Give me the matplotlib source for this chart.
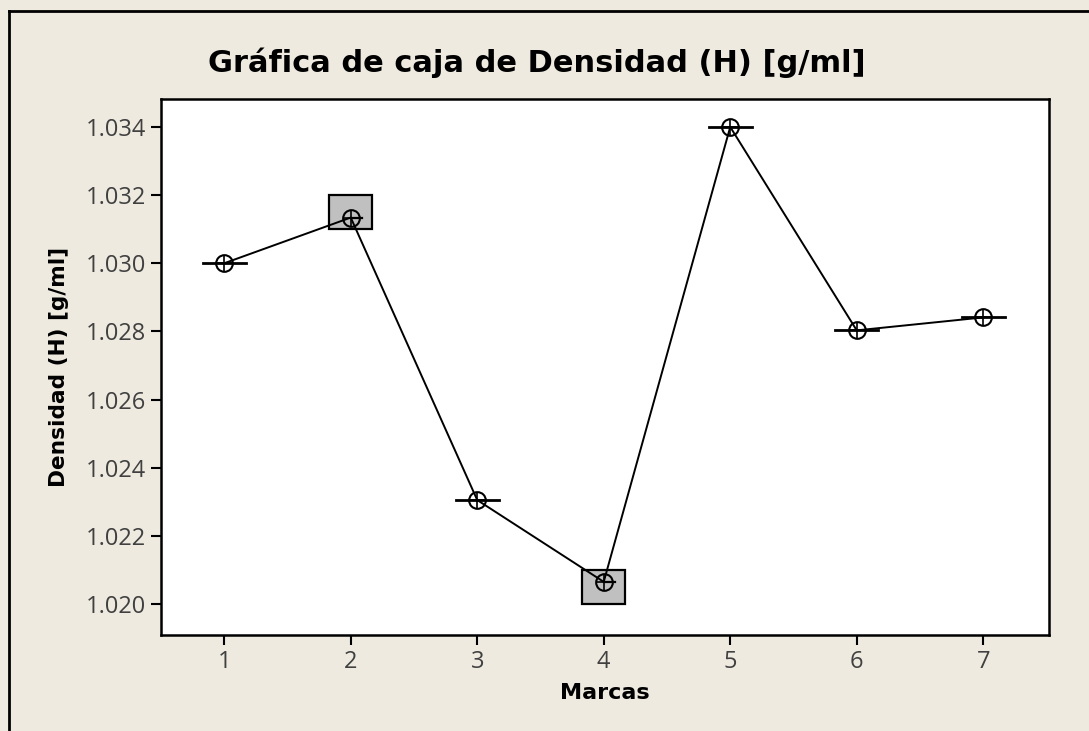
import matplotlib.pyplot as plt
from matplotlib.patches import Rectangle
from matplotlib.lines import Line2D

# marcas y densidades
marcas = [1, 2, 3, 4, 5, 6, 7]
medias = [1.0300, 1.03134, 1.02305, 1.02065, 1.0340, 1.02803, 1.02841]
medianas = [1.0300, 1.03134, 1.02305, 1.02065, 1.0340, 1.02803, 1.02841]
# cajas (Q1, Q3) solo para las marcas con mas de un valor distinto
cajas = {2: (1.0310, 1.0320), 4: (1.0200, 1.0210)}

fondo = '#EEEAE0'
plt.rcParams['font.family'] = ['Open Sans', 'DejaVu Sans']

fig = plt.figure(figsize=(10.89, 7.31), dpi=100, facecolor=fondo)
ax = fig.add_axes([161 / 1089, 1 - 635 / 731, (1049 - 161) / 1089, (635 - 99) / 731])
ax.set_facecolor('white')

ancho = 0.34
for m in marcas:
    med = medianas[m - 1]
    if m in cajas:
        q1, q3 = cajas[m]
        ax.add_patch(Rectangle((m - ancho / 2, q1), ancho, q3 - q1,
                               facecolor='#C0C0C0', edgecolor='black', lw=1.6, zorder=2))
        ax.plot([m, m + 0.09], [med, med], color='black', lw=1.6, zorder=3)
    else:
        ax.plot([m - ancho / 2, m + ancho / 2], [med, med], color='black', lw=2, zorder=3)

ax.plot(marcas, medias, color='black', lw=1.4, zorder=4)
ax.plot(marcas, medias, 'o', ms=12, mfc='none', mec='black', mew=1.5, zorder=5)
ax.plot(marcas, medias, '+', ms=12, mec='black', mew=1.2, zorder=5)

ax.set_xlim(0.5, 7.52)
ax.set_ylim(1.01909, 1.03482)
ax.set_xticks(marcas)
ax.set_yticks([1.020, 1.022, 1.024, 1.026, 1.028, 1.030, 1.032, 1.034])
ax.set_yticklabels(['%.3f' % v for v in ax.get_yticks()])
ax.tick_params(direction='out', length=7, width=1.5, labelsize=17,
               labelcolor='#404040', pad=4)
for s in ax.spines.values():
    s.set_linewidth(1.8)

negrita = dict(family='DejaVu Sans', fontweight='bold')
ax.set_xlabel('Marcas', fontsize=16, labelpad=6, **negrita)
ax.set_ylabel('Densidad (H) [g/ml]', fontsize=15.6, labelpad=12, **negrita)
fig.text(537 / 1089, 1 - 63 / 731, 'Gráfica de caja de Densidad (H) [g/ml]',
         ha='center', va='center', fontsize=22, **negrita)

# marco de la ventana
fig.add_artist(Line2D([9 / 1089, 9 / 1089], [0, 1 - 11 / 731], color='black', lw=2,
                      transform=fig.transFigure))
fig.add_artist(Line2D([9 / 1089, 1], [1 - 11 / 731, 1 - 11 / 731], color='black', lw=2,
                      transform=fig.transFigure))

fig.savefig('out.png', dpi=100, facecolor=fondo)
